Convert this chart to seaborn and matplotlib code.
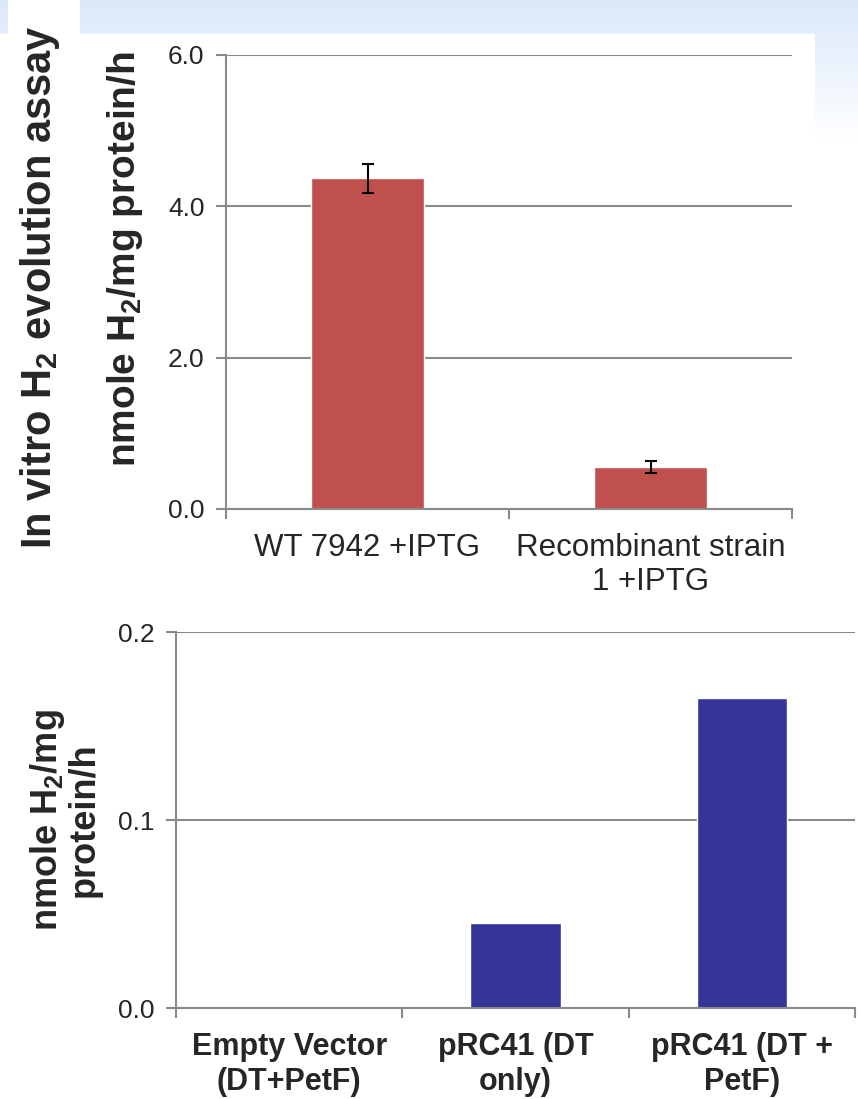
import numpy as np
import matplotlib
matplotlib.use("Agg")
import matplotlib.pyplot as plt
import seaborn as sns
from matplotlib.patches import Rectangle

# ---- data ----
top_categories = ["WT 7942 +IPTG", "Recombinant strain\n1 +IPTG"]
top_values = [4.37, 0.56]
top_errors = [0.19, 0.08]
top_yticks = [0.0, 2.0, 4.0, 6.0]

bottom_categories = ["Empty Vector\n(DT+PetF)", "pRC41 (DT\nonly)", "pRC41 (DT +\nPetF)"]
bottom_values = [0.0, 0.045, 0.165]
bottom_yticks = [0.0, 0.1, 0.2]

sns.set_theme(style="white")
plt.rcParams['font.family'] = ['Liberation Sans', 'DejaVu Sans']
plt.rcParams['mathtext.fontset'] = 'custom'
plt.rcParams['mathtext.rm'] = 'Liberation Sans'
plt.rcParams['mathtext.bf'] = 'Liberation Sans:bold'

W, H = 858, 1099
fig = plt.figure(figsize=(W / 100, H / 100), dpi=100)
fig.patch.set_facecolor("white")

# background: light blue slide gradient
bg = fig.add_axes([0, 0, 1, 1], zorder=-10)
grad = np.ones((H, 1, 3))
top_col = np.array([0.86, 0.91, 0.98])
for i in range(H):
    t = min(i / 140.0, 1.0)
    grad[i, 0, :] = top_col * (1 - t) + np.array([1, 1, 1]) * t
bg.imshow(grad, aspect="auto", extent=[0, W, H, 0])
bg.add_patch(Rectangle((8, 0), 72, 40, color="white", lw=0))
bg.add_patch(Rectangle((0, 34), 815, 600, color="white", lw=0))
bg.add_patch(Rectangle((0, 600), W, H - 600, color="white", lw=0))
bg.set_xlim(0, W)
bg.set_ylim(H, 0)
bg.axis("off")

gray = "#8a8a8a"

def style_axes(ax, ncat, ticks, fmt, label_bold, label_size, tick_size, lsp, xpad):
    ax.set_facecolor("white")
    ax.set_xlim(-0.5, ncat - 0.5)
    ax.set_yticks(ticks)
    ax.set_yticklabels([fmt.format(t) for t in ticks], fontsize=tick_size)
    ax.set_ylim(ticks[0], ticks[-1])
    ax.yaxis.grid(True, color=gray, lw=1.5)
    ax.set_axisbelow(True)
    for s in ["top", "right"]:
        ax.spines[s].set_visible(False)
    for s in ["left", "bottom"]:
        ax.spines[s].set_color(gray)
        ax.spines[s].set_linewidth(1.5)
    ax.tick_params(axis="y", which="major", length=7.5, width=1.5, color=gray, left=True, pad=8)
    ax.set_xticks(np.arange(-0.5, ncat, 1.0), minor=True)
    ax.tick_params(axis="x", which="minor", length=7, width=1.5, color=gray, bottom=True)
    ax.tick_params(axis="x", which="major", length=0, pad=xpad)
    for lab in ax.get_xticklabels():
        lab.set_fontsize(label_size)
        lab.set_fontweight("bold" if label_bold else "normal")
        lab.set_multialignment("center")
        lab.set_linespacing(lsp)
    ax.set_xlabel("")
    ax.set_ylabel("")

# ---- top panel ----
ax1 = fig.add_axes([226 / W, 1 - 509 / H, 566 / W, 454 / H])
sns.barplot(x=top_categories, y=top_values, color="#C0504D", saturation=1,
            width=0.4, errorbar=None, ax=ax1)
ax1.errorbar(np.arange(len(top_values)), top_values, yerr=top_errors, fmt="none",
             ecolor="black", elinewidth=1.5, capsize=4.5, capthick=1.5, zorder=5)
style_axes(ax1, len(top_categories), top_yticks, "{:.1f}", False, 22.5, 19, 1.2, 17)

# ---- bottom panel ----
ax2 = fig.add_axes([176 / W, 1 - 1008 / H, 679 / W, 376 / H])
sns.barplot(x=bottom_categories, y=bottom_values, color="#35359A", saturation=1,
            width=0.4, errorbar=None, ax=ax2)
style_axes(ax2, len(bottom_categories), bottom_yticks, "{:.1f}", True, 22, 19, 1.25, 17)

# ---- labels ----
fig.text(40 / W, 1 - 287 / H, r"In vitro H$_\mathbf{2}$ evolution assay",
         rotation=90, ha="center", va="center", fontsize=30, fontweight="bold")
fig.text(125 / W, 1 - 259 / H, r"nmole H$_\mathbf{2}$/mg protein/h",
         rotation=90, ha="center", va="center", fontsize=28, fontweight="bold")
fig.text(65 / W, 1 - 820 / H, "nmole H$_\\mathbf{2}$/mg\nprotein/h",
         rotation=90, ha="center", va="center", fontsize=26, fontweight="bold",
         multialignment="center", linespacing=1.0)

fig.savefig("out.png", dpi=100)
